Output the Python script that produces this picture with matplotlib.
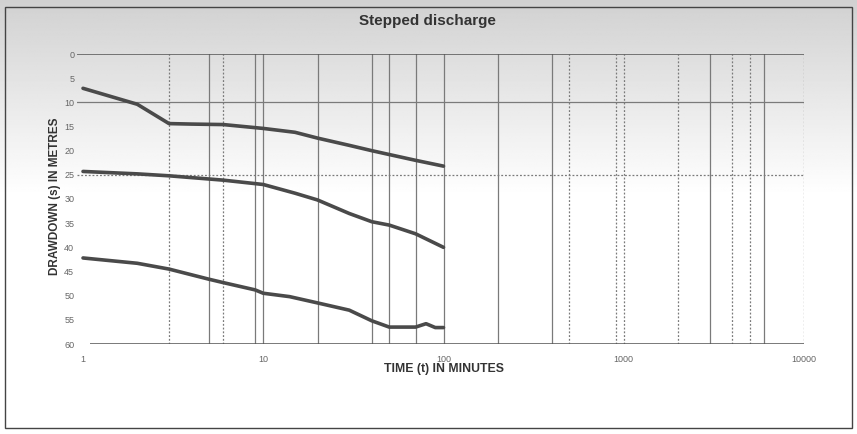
import numpy as np
import matplotlib.pyplot as plt
from matplotlib.patches import Rectangle

plt.rcParams['font.family'] = ['Liberation Sans', 'DejaVu Sans']

# ── Data ──────────────────────────────────────────────────────────────────────
t1 = [1, 2, 3, 4, 6, 10, 15, 20, 30, 40, 50, 70, 100]
s1 = [7.1, 10.4, 14.4, 14.5, 14.6, 15.4, 16.2, 17.4, 18.9, 20.0, 20.8, 22.0, 23.2]

t2 = [1, 2, 3, 6, 10, 15, 20, 30, 40, 50, 70, 100]
s2 = [24.3, 24.8, 25.2, 26.1, 27.0, 28.8, 30.2, 33.0, 34.7, 35.4, 37.2, 40.0]

t3 = [1, 2, 3, 5, 6, 9, 10, 14, 20, 30, 40, 50, 70, 80, 90, 100]
s3 = [42.2, 43.3, 44.5, 46.6, 47.3, 48.8, 49.5, 50.2, 51.5, 53.0, 55.2, 56.5,
      56.5, 55.8, 56.6, 56.6]

grid_solid_x  = [5, 9, 10, 20, 40, 50, 70, 100, 200, 400, 3000, 6000]
grid_dotted_x = [3, 6, 500, 900, 1000, 2000, 4000, 5000, 10000]
grid_solid_y  = [10]
grid_dotted_y = [25]

x_ticks  = [1, 10, 100, 1000, 10000]
y_ticks  = list(range(0, 61, 5))

LINE  = '#4a4a4a'
GRID  = '#7a7a7a'
LABEL = '#333333'
TICK  = '#666666'

W, H = 857, 434
fig = plt.figure(figsize=(W / 100, H / 100), dpi=100)

# ── Grey-to-white background wash like the scan ───────────────────────────────
bg = fig.add_axes([0, 0, 1, 1], zorder=-10)
grad = np.linspace(0, 1, 256)
shade = np.clip(0.82 + 0.18 * grad / 0.45, 0, 1)[:, None] * np.ones((1, 16))
bg.imshow(shade, cmap='gray', vmin=0, vmax=1, aspect='auto',
          extent=[0, 1, 0, 1], origin='upper')
bg.set_xlim(0, 1); bg.set_ylim(0, 1)
bg.axis('off')
fig.patches.append(Rectangle((5 / W, 1 - 428 / H), 847 / W, 421 / H,
                             transform=fig.transFigure, fill=False,
                             edgecolor='#444444', linewidth=1.0))

# ── Main plot ─────────────────────────────────────────────────────────────────
ax = fig.add_axes([77 / W, 1 - 344 / H, (804 - 77) / W, (344 - 54) / H])
ax.set_facecolor('none')
ax.set_xscale('log')
ax.set_xlim(0.926, 10000)
ax.set_ylim(60, 0)

for x in grid_solid_x:
    ax.axvline(x, color=GRID, lw=0.9, zorder=1)
for x in grid_dotted_x:
    ax.axvline(x, color=GRID, lw=0.9, ls=(0, (1.5, 1.5)), zorder=1)
for y in grid_solid_y:
    ax.axhline(y, color=GRID, lw=0.9, zorder=1)
for y in grid_dotted_y:
    ax.axhline(y, color=GRID, lw=0.9, ls=(0, (1.5, 1.5)), zorder=1)
ax.hlines(0, 0.926, 10000, color='#555555', lw=1.1, zorder=2)
ax.hlines(60, 1.09, 10000, color='#555555', lw=1.1, zorder=2)

for t, s in [(t1, s1), (t2, s2), (t3, s3)]:
    ax.plot(t, s, color=LINE, lw=2.6, solid_capstyle='round', zorder=3)

for sp in ax.spines.values():
    sp.set_visible(False)
ax.set_xticks(x_ticks)
ax.set_xticklabels([str(v) for v in x_ticks])
ax.xaxis.set_minor_locator(plt.NullLocator())
ax.set_yticks(y_ticks)
ax.set_yticklabels([str(v) for v in y_ticks])
ax.tick_params(axis='both', length=0, labelsize=6.5, colors=TICK)
ax.tick_params(axis='x', pad=8)
ax.tick_params(axis='y', pad=2)

fig.text(427 / W, 1 - 21 / H, 'Stepped discharge', ha='center', va='center',
         fontsize=11, fontweight='bold', color=LABEL)
fig.text(444 / W, 1 - 369 / H, 'TIME (t) IN MINUTES', ha='center', va='center',
         fontsize=8.8, fontweight='bold', color=LABEL)
fig.text(55 / W, 1 - 196 / H, 'DRAWDOWN (s) IN METRES', ha='center',
         va='center', rotation=90, fontsize=8.5, fontweight='bold', color=LABEL)

fig.savefig('out.png', dpi=100)
